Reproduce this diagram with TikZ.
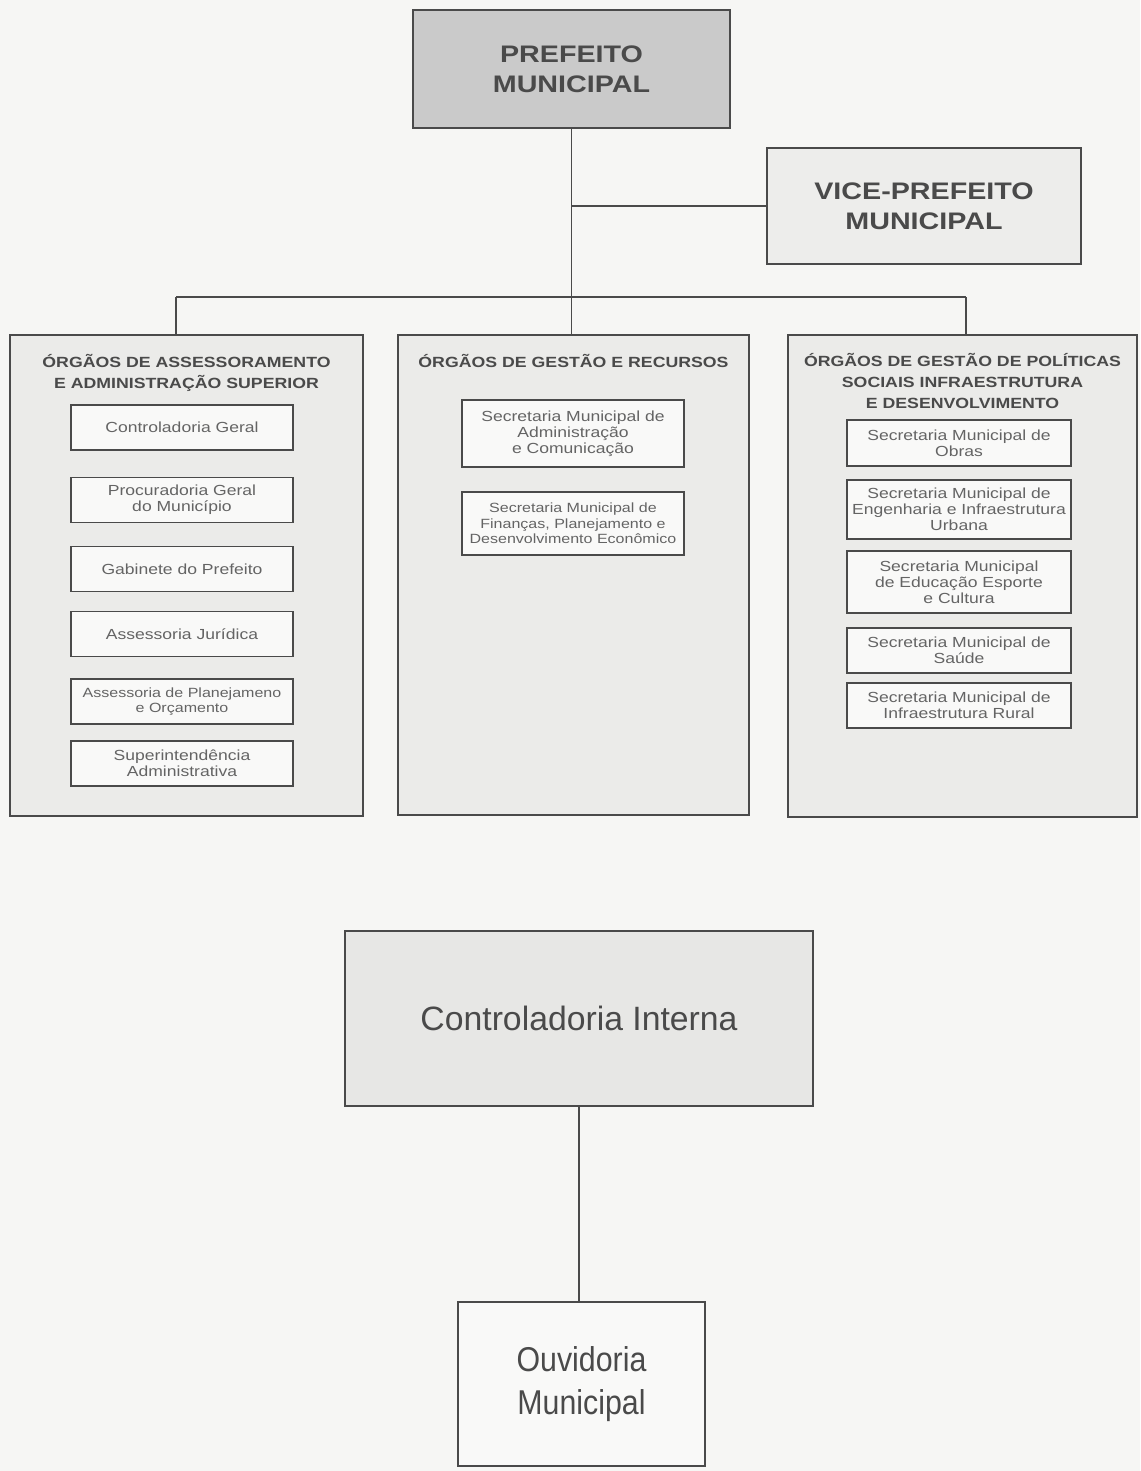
\documentclass[tikz,border=0pt]{standalone}
\usepackage{fontspec}
\setmainfont{Liberation Sans}
\newfontfamily\widesf[FakeStretch=1.2]{Liberation Sans}
\newfontfamily\narrowsf[FakeStretch=0.88]{Liberation Sans}
\newlength\px
\setlength\px{0.025cm}
\definecolor{paper}{HTML}{F6F6F4}
\definecolor{ink}{HTML}{4A4A4A}
\definecolor{chieffill}{HTML}{CACACA}
\definecolor{vicefill}{HTML}{EDEDEB}
\definecolor{panelfill}{HTML}{EBEBE9}
\definecolor{unitfill}{HTML}{F9F9F8}
\definecolor{ctrlfill}{HTML}{E7E7E5}
\definecolor{unittext}{HTML}{646464}

\begin{document}
\begin{tikzpicture}[x=0.025cm, y=-0.025cm,
		box/.style={draw=ink, line width=0.9pt, inner sep=2pt, align=center},
		chief/.style={box, text=ink, font={\widesf\bfseries\fontsize{17}{21.5}\selectfont}},
		panel/.style={box, fill=panelfill},
		head/.style={align=center, text=ink, font={\widesf\bfseries\fontsize{10.5}{15}\selectfont}},
		unit/.style={box, fill=unitfill, text=unittext, minimum width=222\px, minimum height=45\px,
			font={\widesf\fontsize{10.4}{11.5}\selectfont}},
		small/.style={font={\widesf\fontsize{9.5}{11}\selectfont}}]
	\fill[paper] (0,0) rectangle (1140,1471);
	\useasboundingbox (0,0) rectangle (1140,1471);

	% top of the chart
	\node[chief, fill=chieffill, minimum width=317\px, minimum height=118\px] (prefeito) at (571.5,69) {PREFEITO\\MUNICIPAL};
	\node[chief, fill=vicefill, minimum width=314\px, minimum height=116\px] (vice) at (924,206) {VICE-PREFEITO\\MUNICIPAL};
	\coordinate (barl) at (176,297);
	\coordinate (barr) at (966,297);

	% the three groups
	\node[panel, minimum width=353\px, minimum height=481\px] (asses) at (186.5,575.5) {};
	\node[panel, minimum width=351\px, minimum height=480\px] (gestao) at (573.5,575) {};
	\node[panel, minimum width=349\px, minimum height=482\px] (social) at (962.5,576) {};
	\node[head] (asseshead) at (186.5,373) {ÓRGÃOS DE ASSESSORAMENTO\\E ADMINISTRAÇÃO SUPERIOR};
	\node[head] (gestaohead) at (573.5,361) {ÓRGÃOS DE GESTÃO E RECURSOS};
	\node[head] (socialhead) at (962.5,381) {ÓRGÃOS DE GESTÃO DE POLÍTICAS\\SOCIAIS INFRAESTRUTURA\\E DESENVOLVIMENTO};

	\node[unit] (contgeral) at (182,427.5) {Controladoria Geral};
	\node[unit] (procur) at (182,500) {Procuradoria Geral\\do Município};
	\node[unit] (gabinete) at (182,569) {Gabinete do Prefeito};
	\node[unit] (juridica) at (182,634) {Assessoria Jurídica};
	\node[unit, small] (planej) at (182,701.5) {Assessoria de Planejameno\\e Orçamento};
	\node[unit] (superint) at (182,763.5) {Superintendência\\Administrativa};

	\node[unit, minimum height=67\px] (adm) at (573,433.5) {Secretaria Municipal de\\Administração\\e Comunicação};
	\node[unit, small, minimum height=63\px] (financas) at (573,523.5) {Secretaria Municipal de\\Finanças, Planejamento e\\Desenvolvimento Econômico};

	\node[unit, minimum width=224\px, minimum height=46\px] (obras) at (959,443) {Secretaria Municipal de\\Obras};
	\node[unit, minimum width=224\px, minimum height=59\px] (engenh) at (959,509.5) {Secretaria Municipal de\\Engenharia e Infraestrutura\\Urbana};
	\node[unit, minimum width=224\px, minimum height=62\px] (educ) at (959,582) {Secretaria Municipal\\de Educação Esporte\\e Cultura};
	\node[unit, minimum width=224\px] (saude) at (959,650.5) {Secretaria Municipal de\\Saúde};
	\node[unit, minimum width=224\px] (rural) at (959,705.5) {Secretaria Municipal de\\Infraestrutura Rural};

	% lower part
	\node[box, fill=ctrlfill, text=ink, minimum width=468\px, minimum height=175\px,
		font={\fontsize{24}{28}\selectfont}] (ctrl) at (579,1018.5) {Controladoria Interna};
	\node[box, fill=unitfill, text=ink, minimum width=247\px, minimum height=164\px,
		font={\narrowsf\fontsize{24.5}{30}\selectfont}] (ouvid) at (581.5,1384) {Ouvidoria\\Municipal};

	\draw[ink, line width=0.9pt] (prefeito.south) -- (prefeito.south |- barl);
	\draw[ink, line width=0.9pt] (prefeito.south |- vice.west) -- (vice.west);
	\draw[ink, line width=0.9pt] (barl) -- (barr);
	\draw[ink, line width=0.9pt] (barl) -- (barl |- asses.north);
	\draw[ink, line width=0.9pt] (prefeito.south |- barl) -- (prefeito.south |- gestao.north);
	\draw[ink, line width=0.9pt] (barr) -- (barr |- social.north);
	\draw[ink, line width=0.9pt] (ctrl.south) -- (ctrl.south |- ouvid.north);
\end{tikzpicture}
\end{document}
